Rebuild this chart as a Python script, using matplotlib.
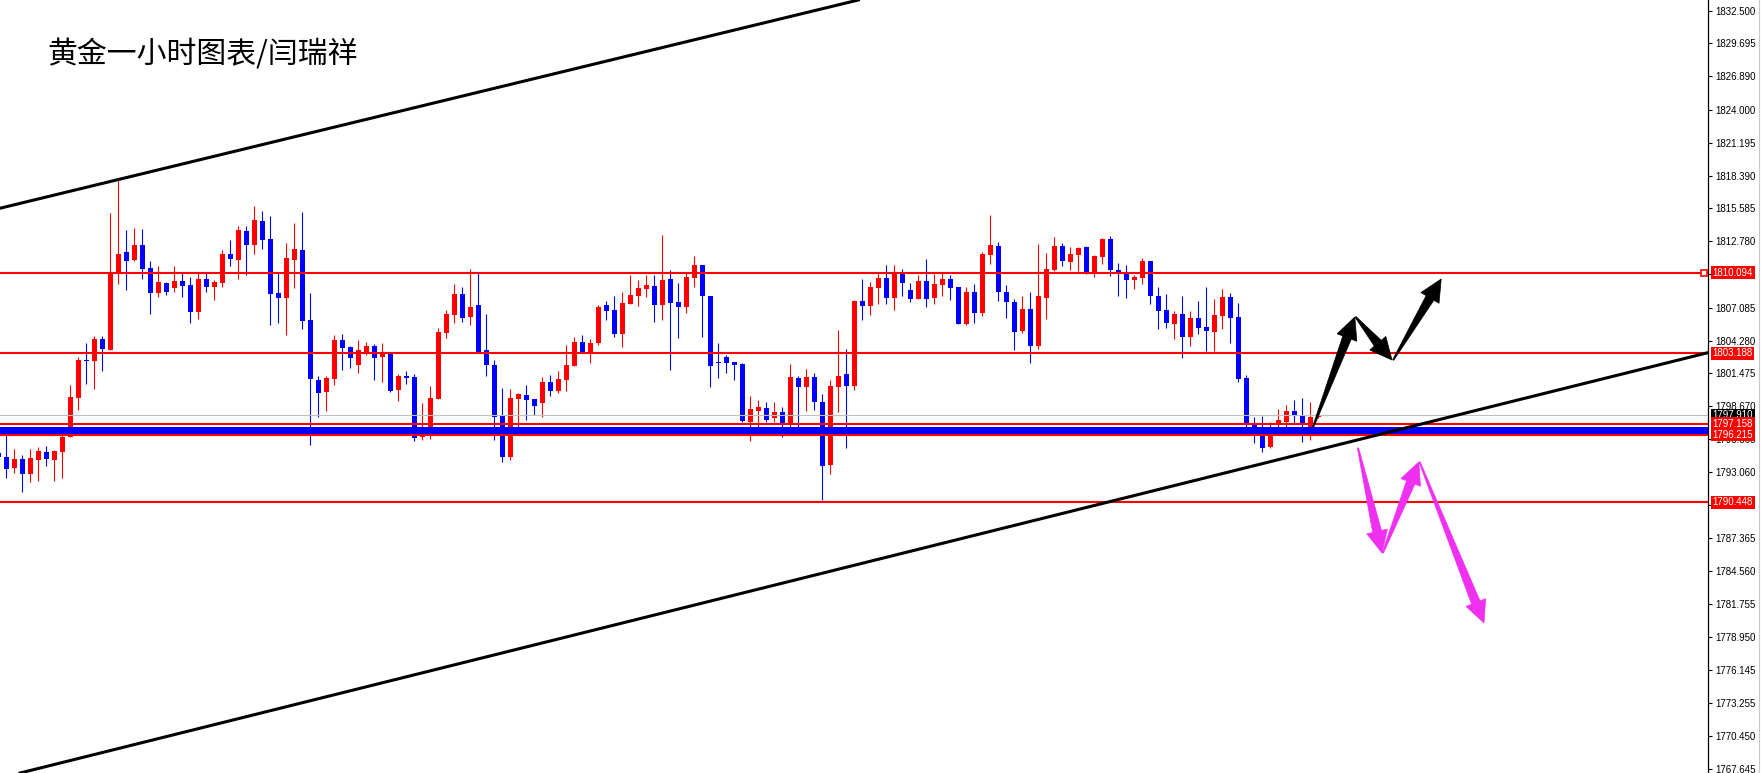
import numpy as np
import matplotlib
matplotlib.use('Agg')
import matplotlib.pyplot as plt
from matplotlib.lines import Line2D
from matplotlib.patches import Polygon
from matplotlib.transforms import IdentityTransform

# ---------------------------------------------------------------------------
# Data: XAUUSD H1 candles, oldest first
# ---------------------------------------------------------------------------
OPEN = [
    1794.64, 1794.33, 1793.42, 1794.16, 1792.91, 1794.10, 1794.76, 1794.10, 1794.79, 1796.07,
    1799.40, 1802.62, 1802.57, 1804.42, 1803.48, 1810.18, 1811.86, 1811.17, 1812.46, 1810.49,
    1808.38, 1809.21, 1808.81, 1809.38, 1809.04, 1806.73, 1809.55, 1808.90, 1809.21, 1811.69,
    1811.17, 1813.65, 1812.46, 1814.51, 1812.97, 1808.35, 1807.95, 1811.17, 1812.03, 1806.05,
    1800.92, 1799.89, 1801.00, 1804.34, 1803.74, 1802.20, 1803.14, 1803.82, 1802.88, 1803.22,
    1800.06, 1801.26, 1801.17, 1796.04, 1796.15, 1799.32, 1804.93, 1806.47, 1808.27, 1806.30,
    1807.33, 1803.48, 1802.20, 1797.84, 1794.36, 1799.29, 1799.63, 1799.29, 1798.95, 1800.74,
    1799.97, 1800.92, 1802.11, 1804.16, 1803.31, 1804.08, 1807.33, 1806.90, 1804.85, 1807.41,
    1808.10, 1808.70, 1808.95, 1807.33, 1809.55, 1807.58, 1807.16, 1809.64, 1810.75, 1808.10,
    1802.45, 1802.88, 1802.45, 1802.28, 1797.35, 1798.26, 1798.52, 1797.67, 1798.18, 1797.07,
    1801.09, 1800.32, 1801.17, 1799.03, 1793.65, 1800.32, 1801.43, 1800.40, 1807.67, 1807.24,
    1808.78, 1809.64, 1807.93, 1810.06, 1808.61, 1807.84, 1809.38, 1807.93, 1809.04, 1809.55,
    1808.87, 1805.70, 1808.44, 1806.64, 1811.60, 1812.37, 1808.44, 1807.58, 1805.13, 1806.99,
    1803.85, 1807.95, 1810.35, 1812.37, 1811.03, 1811.63, 1812.29, 1810.01, 1811.46, 1812.97,
    1810.35, 1810.18, 1809.49, 1809.66, 1811.09, 1808.10, 1806.90, 1805.73, 1806.56, 1804.62,
    1806.22, 1805.45, 1805.05, 1806.42, 1808.01, 1806.30, 1801.09, 1797.18, 1796.84, 1795.21,
    1797.27, 1797.35, 1798.26, 1797.84, 1796.58, 1797.75,
]
HIGH = [
    1794.80, 1796.21, 1795.02, 1794.50, 1795.02, 1795.21, 1795.27, 1794.93, 1796.21, 1800.49,
    1802.85, 1804.11, 1804.68, 1804.68, 1815.22, 1818.01, 1813.74, 1813.91, 1813.83, 1811.09,
    1810.66, 1809.29, 1810.66, 1810.06, 1809.72, 1810.06, 1810.06, 1809.47, 1812.03, 1812.89,
    1814.08, 1814.08, 1815.79, 1815.37, 1814.94, 1810.06, 1812.63, 1814.34, 1815.28, 1808.35,
    1801.26, 1801.26, 1804.76, 1804.85, 1803.82, 1804.34, 1804.16, 1803.99, 1804.08, 1803.22,
    1801.43, 1801.68, 1801.43, 1798.95, 1800.40, 1805.36, 1806.90, 1809.12, 1808.87, 1810.41,
    1810.06, 1806.56, 1802.62, 1800.23, 1800.15, 1799.80, 1800.49, 1799.29, 1801.17, 1801.34,
    1801.68, 1803.91, 1804.59, 1804.76, 1804.42, 1807.33, 1807.67, 1808.10, 1808.44, 1809.89,
    1809.47, 1809.89, 1809.89, 1813.31, 1810.32, 1809.21, 1810.06, 1811.52, 1810.75, 1808.10,
    1804.08, 1803.05, 1802.45, 1802.37, 1799.55, 1799.21, 1799.03, 1799.03, 1798.61, 1802.28,
    1801.26, 1801.86, 1801.51, 1799.72, 1800.92, 1805.19, 1803.57, 1807.76, 1809.55, 1809.29,
    1809.98, 1810.75, 1810.75, 1810.41, 1809.21, 1809.89, 1811.26, 1809.98, 1810.15, 1809.89,
    1808.87, 1808.87, 1809.12, 1811.86, 1815.02, 1812.71, 1809.04, 1807.84, 1808.10, 1808.44,
    1812.54, 1811.77, 1813.14, 1812.63, 1812.29, 1812.29, 1812.37, 1811.60, 1813.06, 1813.23,
    1810.92, 1810.75, 1809.89, 1811.35, 1811.09, 1808.87, 1808.27, 1806.81, 1808.10, 1806.81,
    1807.67, 1808.87, 1807.84, 1808.70, 1808.35, 1807.50, 1801.34, 1797.75, 1797.84, 1797.32,
    1798.44, 1798.78, 1799.21, 1799.38, 1799.03, 1797.95,
]
LOW = [
    1794.20, 1792.51, 1792.99, 1791.37, 1792.22, 1792.31, 1793.59, 1792.31, 1792.56, 1796.01,
    1798.35, 1800.60, 1800.15, 1801.71, 1803.48, 1809.12, 1808.61, 1811.12, 1809.58, 1806.56,
    1808.01, 1808.21, 1808.44, 1808.04, 1805.79, 1806.13, 1808.44, 1807.78, 1808.87, 1810.66,
    1809.58, 1809.89, 1811.69, 1812.12, 1805.62, 1805.79, 1804.76, 1808.78, 1805.28, 1795.36,
    1797.78, 1798.26, 1800.49, 1801.77, 1801.94, 1801.51, 1803.05, 1800.92, 1800.74, 1799.89,
    1799.12, 1800.57, 1795.73, 1795.81, 1795.90, 1799.32, 1804.51, 1805.79, 1805.87, 1805.62,
    1803.31, 1801.26, 1795.79, 1793.93, 1794.10, 1796.50, 1797.52, 1797.89, 1797.75, 1799.55,
    1799.80, 1799.97, 1802.11, 1803.31, 1802.37, 1803.91, 1806.05, 1804.59, 1803.74, 1807.41,
    1807.24, 1808.01, 1805.87, 1806.05, 1801.77, 1804.51, 1806.64, 1808.87, 1804.59, 1800.32,
    1801.09, 1801.51, 1800.92, 1797.32, 1795.70, 1796.38, 1797.32, 1797.32, 1796.07, 1796.73,
    1796.90, 1798.26, 1798.35, 1790.66, 1792.88, 1798.18, 1795.10, 1800.06, 1806.05, 1806.47,
    1807.41, 1807.41, 1806.90, 1808.10, 1807.58, 1807.84, 1807.16, 1807.41, 1808.10, 1807.76,
    1805.70, 1805.62, 1805.79, 1806.39, 1810.83, 1807.70, 1806.24, 1803.51, 1804.96, 1802.40,
    1803.59, 1806.16, 1810.26, 1810.69, 1810.35, 1810.26, 1810.01, 1809.75, 1810.86, 1809.84,
    1808.13, 1807.95, 1808.72, 1809.15, 1807.44, 1805.30, 1805.39, 1804.45, 1802.82, 1803.85,
    1804.88, 1803.42, 1803.42, 1805.30, 1804.11, 1800.77, 1796.92, 1795.56, 1794.79, 1795.13,
    1796.64, 1796.58, 1797.27, 1795.64, 1795.81, 1797.70,
]
CLOSE = [
    1794.30, 1793.33, 1794.16, 1792.91, 1794.25, 1794.84, 1794.19, 1794.84, 1796.04, 1799.46,
    1802.62, 1802.54, 1804.42, 1803.57, 1810.18, 1811.69, 1811.12, 1812.46, 1810.43, 1808.38,
    1809.29, 1808.47, 1809.38, 1808.98, 1806.73, 1809.55, 1808.90, 1809.29, 1811.69, 1811.29,
    1813.74, 1812.46, 1814.60, 1812.89, 1808.27, 1807.95, 1811.35, 1812.12, 1805.99, 1801.00,
    1799.80, 1801.09, 1804.34, 1803.65, 1802.80, 1803.48, 1803.82, 1802.80, 1803.14, 1799.97,
    1801.26, 1801.09, 1795.98, 1796.15, 1799.38, 1805.02, 1806.56, 1808.27, 1806.22, 1807.16,
    1803.31, 1802.20, 1797.75, 1794.36, 1799.38, 1799.72, 1799.21, 1798.69, 1800.74, 1799.97,
    1801.00, 1802.20, 1804.16, 1803.31, 1804.08, 1807.16, 1806.81, 1804.85, 1807.50, 1808.18,
    1808.78, 1809.04, 1807.33, 1809.47, 1807.50, 1807.16, 1809.72, 1810.75, 1808.10, 1802.11,
    1802.37, 1802.37, 1802.20, 1797.41, 1798.44, 1798.61, 1797.50, 1798.18, 1797.21, 1801.17,
    1800.32, 1801.17, 1799.03, 1793.56, 1800.40, 1801.26, 1800.40, 1807.67, 1807.24, 1808.87,
    1809.64, 1807.93, 1810.15, 1809.21, 1807.84, 1809.38, 1807.84, 1809.12, 1809.55, 1808.78,
    1805.70, 1808.44, 1806.64, 1811.69, 1812.46, 1808.47, 1807.61, 1805.05, 1806.99, 1803.85,
    1808.10, 1810.41, 1812.37, 1811.12, 1811.69, 1812.20, 1810.18, 1811.52, 1812.97, 1810.35,
    1810.01, 1809.49, 1809.72, 1811.09, 1808.13, 1806.84, 1805.82, 1806.56, 1804.62, 1806.22,
    1805.39, 1805.13, 1806.47, 1808.01, 1806.24, 1801.03, 1797.18, 1796.87, 1795.13, 1796.64,
    1797.50, 1798.26, 1797.87, 1797.15, 1797.75, 1797.92,
]

# horizontal levels
RED_LEVELS = [1810.094, 1803.188, 1797.158, 1796.215, 1790.448]
BID = 1797.910
BAND = (1796.29, 1796.92)

# channel lines, two anchor points each (bar index, price)
UPPER_LINE = [(0.25, 1815.60), (30.25, 1820.58)]
LOWER_LINE = [(162.75, 1794.56), (213.75, 1803.25)]

# scenario arrows (tail, tip) in (bar index, price)
BLACK_ARROWS = [
    ((164.4, 1796.90), (169.6, 1806.30)),
    ((169.7, 1806.30), (174.25, 1802.62)),
    ((174.4, 1802.62), (180.4, 1809.55)),
]
MAGENTA_ARROWS = [
    ((170.0, 1795.10), (173.0, 1786.12)),
    ((173.1, 1786.12), (177.6, 1793.90)),
    ((177.7, 1793.90), (185.75, 1780.13)),
]

TICK_VALUES = [1832.500, 1829.695, 1826.890, 1824.000, 1821.195, 1818.390, 1815.585,
               1812.780, 1809.975, 1807.085, 1804.280, 1801.475, 1798.670, 1795.865,
               1793.060, 1790.255, 1787.365, 1784.560, 1781.755, 1778.950, 1776.145,
               1773.255, 1770.450, 1767.645]

TITLE = '黄金一小时图表/闫瑞祥'

UP_COLOR = '#ff0000'
DOWN_COLOR = '#0000ff'
ARROW_MAGENTA = '#f030f0'
LABEL_FONT = 'Liberation Sans'
LABEL_SIZE = 7.0

# ---------------------------------------------------------------------------
W, H = 1761, 773
fig = plt.figure(figsize=(W / 100, H / 100), dpi=100)
fig.patch.set_facecolor('white')
ax = fig.add_axes([0, 0, 1708 / W, 1])
ax.set_xlim(0.25, 213.75)
ax.set_ylim(1767.30, 1833.41)

for side in ('top', 'bottom', 'left'):
    ax.spines[side].set_visible(False)
ax.spines['right'].set_linewidth(0.9)
ax.set_xticks([])
ax.yaxis.tick_right()
ax.set_yticks(TICK_VALUES)
ax.set_yticklabels([f'{v:.3f}' for v in TICK_VALUES], family=LABEL_FONT)
ax.tick_params(axis='y', direction='out', length=3, width=0.8, pad=2.5,
               labelsize=LABEL_SIZE, colors='black')

# candles (drawn behind the chart objects, like MT4 default)
o = np.array(OPEN)
c = np.array(CLOSE)
x = np.arange(len(o))
colors = np.where(c >= o, UP_COLOR, DOWN_COLOR)
ax.vlines(x, LOW, HIGH, colors=colors, lw=0.8, zorder=2)
ax.bar(x, np.maximum(np.abs(c - o), 0.09), 0.625, bottom=np.minimum(o, c),
       color=colors, lw=0, zorder=2)

# levels
ax.axhline(BID, color='#c0c0c0', lw=0.8, zorder=3)
ax.axhspan(*BAND, color=DOWN_COLOR, lw=0, zorder=3)
for lvl in RED_LEVELS:
    ax.axhline(lvl, color=UP_COLOR, lw=1.5, zorder=3)
ax.plot([213.3], [RED_LEVELS[0]], marker='s', ms=4.2, mfc='white', mec=UP_COLOR,
        mew=1.2, clip_on=False, zorder=6)

# channel
for pts in (UPPER_LINE, LOWER_LINE):
    ax.axline(pts[0], pts[1], color='black', lw=2.2, zorder=4)


def taper_arrow(tail, tip, color, head_len=22, head_w=10.5, shaft_w=4.5):
    a = ax.transData.transform(tail)
    b = ax.transData.transform(tip)
    u = (b - a) / np.hypot(*(b - a))
    n = np.array([-u[1], u[0]])
    base = b - u * head_len
    pts = [a + n * 0.6, base + n * shaft_w, base + n * head_w, b,
           base - n * head_w, base - n * shaft_w, a - n * 0.6]
    ax.add_patch(Polygon(pts, closed=True, facecolor=color, edgecolor=color,
                         lw=0.5, transform=IdentityTransform(), zorder=5))


for tail, tip in BLACK_ARROWS:
    taper_arrow(tail, tip, 'black')
for tail, tip in MAGENTA_ARROWS:
    taper_arrow(tail, tip, ARROW_MAGENTA)

# price tags on the right scale
tag_tr = ax.get_yaxis_transform()


def price_tag(y, fc):
    ax.text(1.0028, y, f'{y:.3f}', transform=tag_tr, ha='left', va='center',
            fontsize=LABEL_SIZE, family=LABEL_FONT, color='white', clip_on=False,
            bbox=dict(boxstyle='square,pad=0.15', fc=fc, ec='none'), zorder=7)


price_tag(BID, 'black')
for lvl in RED_LEVELS:
    price_tag(lvl, UP_COLOR)

fig.add_artist(Line2D([1758.5 / W] * 2, [0, 1], transform=fig.transFigure,
                      color='#c8c8c8', lw=0.8))

fig.text(47 / W, 1 - 55 / H, TITLE, fontsize=21.5, ha='left', va='center',
         family=['Noto Sans CJK SC', 'DejaVu Sans'])

fig.savefig('out.png', dpi=100, facecolor='white')
